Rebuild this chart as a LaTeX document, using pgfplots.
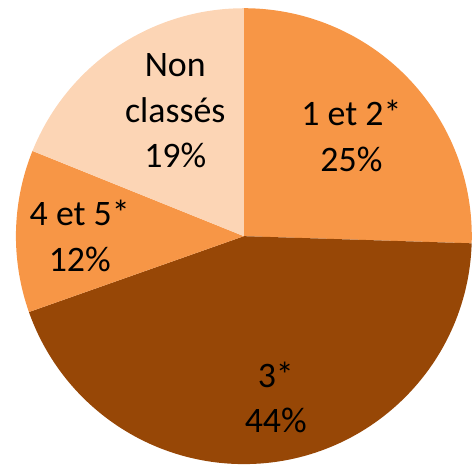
\documentclass[border=0pt]{standalone}
\usepackage{pgfplots}
\pgfplotsset{compat=1.18}
\usepackage{fontspec}
\setmainfont{Carlito}
\definecolor{sliceA}{RGB}{247,150,70}
\definecolor{sliceB}{RGB}{151,71,6}
\definecolor{sliceC}{RGB}{252,213,181}
% #1 cumulative percent before the slice, #2 percent of the slice, #3 colour
\newcommand{\pieslice}[3]{%
  \fill[#3] (axis cs:0,0) -- (axis cs:{cos(90-3.6*#1)},{sin(90-3.6*#1)})
    arc[start angle={90-3.6*#1}, end angle={90-3.6*(#1+#2)}, radius=229bp] -- cycle;}
\tikzset{pielabel/.style={align=center, font=\fontsize{36bp}{46bp}\selectfont, inner sep=0pt}}
\begin{document}
\begin{tikzpicture}
\begin{axis}[hide axis, scale only axis, width=473bp, height=467bp,
  xmin=-1.0699, xmax=0.9956, ymin=-1.003, ymax=1.036, clip=false]
\path (axis cs:-1.0699,-1.003) rectangle (axis cs:0.9956,1.036);
% slices: 1 et 2* 25.5, 3* 44.1, 4 et 5* 11.5, Non classes 18.9
\pieslice{0}{25.5}{sliceA}
\pieslice{25.5}{44.1}{sliceB}
\pieslice{69.6}{11.5}{sliceA}
\pieslice{81.1}{18.9}{sliceC}
\node[pielabel] at (axis cs:0.472,0.441) {1 et 2*\\25\%};
\node[pielabel] at (axis cs:0.140,-0.707) {3*\\44\%};
\node[pielabel] at (axis cs:-0.720,0.0) {4 et 5*\\12\%};
\node[pielabel] at (axis cs:-0.301,0.550) {Non\\classés\\19\%};
\end{axis}
\end{tikzpicture}
\end{document}
